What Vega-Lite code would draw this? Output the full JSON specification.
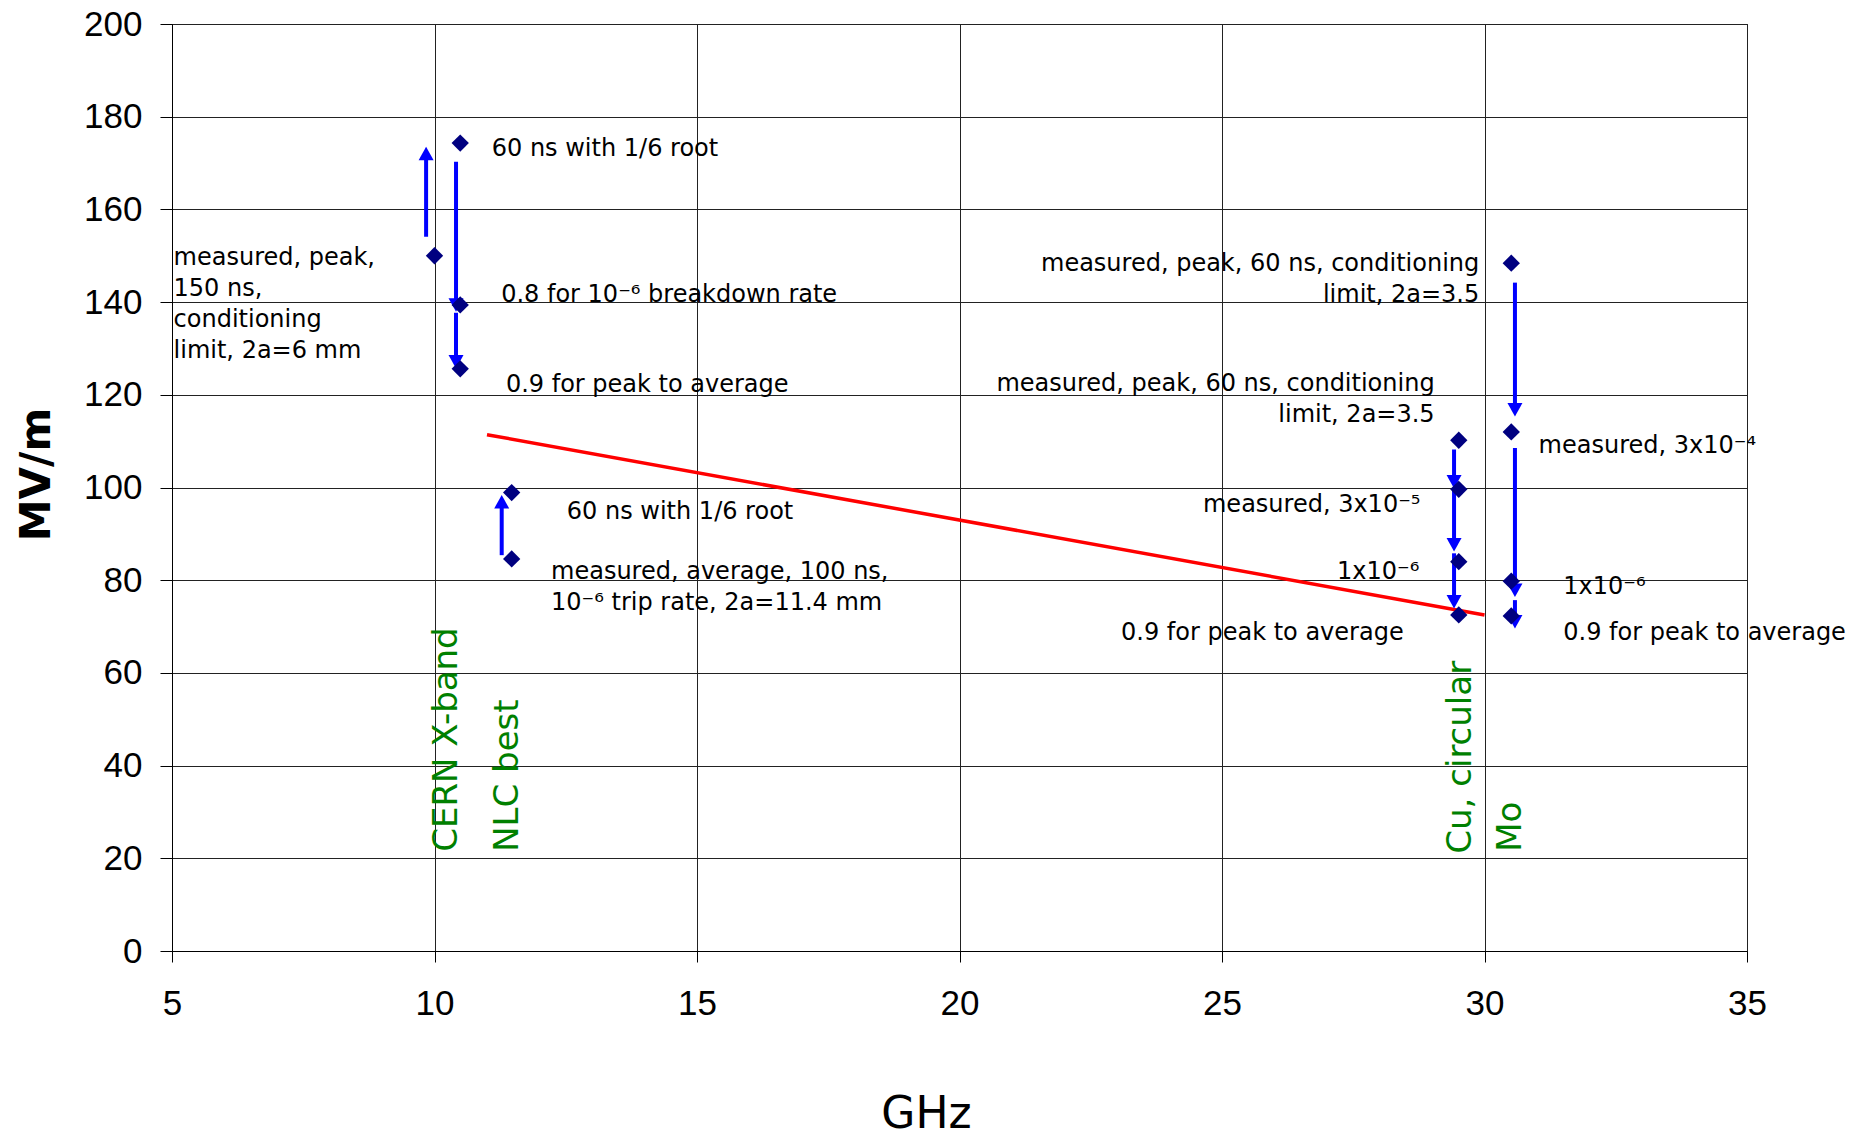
{
  "$schema": "https://vega.github.io/schema/vega-lite/v6.json",
  "width": 1575,
  "height": 927,
  "autosize": {"type": "none"},
  "padding": {"left": 172, "top": 24, "right": 115, "bottom": 189},
  "background": "white",
  "config": {
    "view": {"stroke": "#000", "strokeWidth": 1},
    "axis": {
      "grid": true,
      "gridColor": "#222",
      "gridWidth": 1,
      "gridOpacity": 1,
      "domainColor": "#000",
      "domainWidth": 1,
      "tickColor": "#000",
      "tickWidth": 1,
      "labelFont": "Liberation Sans",
      "labelFontSize": 35,
      "labelColor": "#000",
      "labelOverlap": false,
      "labelFlush": false,
      "labelBound": false,
      "titleColor": "#000",
      "titleFont": "DejaVu Sans"
    },
    "axisX": {
      "tickSize": 11,
      "labelPadding": 24,
      "titleFontSize": 44,
      "titleFontWeight": "normal",
      "titleX": 754,
      "titleY": 163,
      "titleAlign": "center",
      "titleBaseline": "middle"
    },
    "axisY": {
      "tickSize": 12,
      "labelPadding": 18,
      "titleFontSize": 42,
      "titleFontWeight": "bold",
      "titleAngle": 270,
      "titleX": -136,
      "titleY": 450,
      "titleAlign": "center",
      "titleBaseline": "middle"
    }
  },
  "datasets": {
    "points": [
      {"x": 10.0, "y": 150.0},
      {"x": 10.49, "y": 174.3},
      {"x": 10.49, "y": 139.4},
      {"x": 10.49, "y": 125.6},
      {"x": 11.47, "y": 98.9},
      {"x": 11.47, "y": 84.6},
      {"x": 29.51, "y": 110.2},
      {"x": 29.51, "y": 99.6},
      {"x": 29.51, "y": 84.0},
      {"x": 29.51, "y": 72.5},
      {"x": 30.51, "y": 148.4},
      {"x": 30.51, "y": 112.0},
      {"x": 30.51, "y": 79.8},
      {"x": 30.51, "y": 72.3}
    ],
    "arrows": [
      {"x": 9.84, "y": 154.1, "y2": 173.5, "dir": "up"},
      {"x": 11.28, "y": 85.4, "y2": 98.4, "dir": "up"},
      {"x": 10.41, "y": 170.3, "y2": 137.9, "dir": "down"},
      {"x": 10.41, "y": 137.7, "y2": 125.7, "dir": "down"},
      {"x": 29.42, "y": 108.2, "y2": 99.8, "dir": "down"},
      {"x": 29.42, "y": 99.5, "y2": 86.2, "dir": "down"},
      {"x": 29.42, "y": 85.8, "y2": 73.9, "dir": "down"},
      {"x": 30.58, "y": 144.2, "y2": 115.3, "dir": "down"},
      {"x": 30.58, "y": 108.5, "y2": 76.4, "dir": "down"},
      {"x": 30.58, "y": 75.7, "y2": 69.6, "dir": "down"}
    ],
    "trend": [
      {"x": 11.0, "y": 111.4},
      {"x": 30.0, "y": 72.5}
    ],
    "notes": [
      {"x": 11.09, "y": 175.7, "label": "60 ns with 1/6 root", "side": "left"},
      {"x": 5.03, "y": 152.1, "label": "measured, peak,\n150 ns,\nconditioning\nlimit, 2a=6 mm", "side": "left"},
      {"x": 11.27, "y": 144.2, "label": "0.8 for 10⁻⁶ breakdown rate", "side": "left"},
      {"x": 11.36, "y": 124.8, "label": "0.9 for peak to average", "side": "left"},
      {"x": 12.52, "y": 97.3, "label": "60 ns with 1/6 root", "side": "left"},
      {"x": 12.22, "y": 84.4, "label": "measured, average, 100 ns,\n10⁻⁶ trip rate, 2a=11.4 mm", "side": "left"},
      {"x": 31.03, "y": 111.6, "label": "measured, 3x10⁻⁴", "side": "left"},
      {"x": 31.5, "y": 81.2, "label": "1x10⁻⁶", "side": "left"},
      {"x": 31.5, "y": 71.1, "label": "0.9 for peak to average", "side": "left"},
      {"x": 29.9, "y": 150.9, "label": "measured, peak, 60 ns, conditioning\nlimit, 2a=3.5", "side": "right"},
      {"x": 29.05, "y": 125.0, "label": "measured, peak, 60 ns, conditioning\nlimit, 2a=3.5", "side": "right"},
      {"x": 28.78, "y": 98.8, "label": "measured, 3x10⁻⁵", "side": "right"},
      {"x": 28.76, "y": 84.4, "label": "1x10⁻⁶", "side": "right"},
      {"x": 28.46, "y": 71.1, "label": "0.9 for peak to average", "side": "right"}
    ],
    "sites": [
      {"x": 10.23, "y": 21.4, "label": "CERN X-band"},
      {"x": 11.4, "y": 21.4, "label": "NLC best"},
      {"x": 29.55, "y": 21.0, "label": "Cu, circular"},
      {"x": 30.5, "y": 21.4, "label": "Mo"}
    ]
  },
  "encoding": {
    "x": {
      "field": "x",
      "type": "quantitative",
      "title": "GHz",
      "scale": {"domain": [5, 35], "nice": false, "zero": false},
      "axis": {"values": [5, 10, 15, 20, 25, 30, 35]}
    },
    "y": {
      "field": "y",
      "type": "quantitative",
      "title": "MV/m",
      "scale": {"domain": [0, 200], "nice": false},
      "axis": {"values": [0, 20, 40, 60, 80, 100, 120, 140, 160, 180, 200]}
    }
  },
  "layer": [
    {
      "data": {"name": "trend"},
      "mark": {"type": "line", "color": "#FF0000", "strokeWidth": 3.5}
    },
    {
      "data": {"name": "arrows"},
      "transform": [{"filter": "datum.dir == 'up'"}],
      "mark": {"type": "rule", "color": "#0000FF", "strokeWidth": 4, "strokeCap": "butt", "y2Offset": 8},
      "encoding": {"y2": {"field": "y2"}}
    },
    {
      "data": {"name": "arrows"},
      "transform": [{"filter": "datum.dir == 'down'"}],
      "mark": {"type": "rule", "color": "#0000FF", "strokeWidth": 4, "strokeCap": "butt", "y2Offset": -8},
      "encoding": {"y2": {"field": "y2"}}
    },
    {
      "data": {"name": "arrows"},
      "mark": {"type": "point", "filled": true, "opacity": 1, "color": "#0000FF", "size": 225, "strokeWidth": 0},
      "encoding": {
        "y": {
          "field": "y2",
          "type": "quantitative",
          "title": "MV/m",
          "axis": {"values": [0, 20, 40, 60, 80, 100, 120, 140, 160, 180, 200]}
        },
        "shape": {
          "field": "dir",
          "type": "nominal",
          "scale": {"domain": ["up", "down"], "range": ["M0,0L1,1.8L-1,1.8Z", "M0,0L1,-1.8L-1,-1.8Z"]},
          "legend": null
        }
      }
    },
    {
      "data": {"name": "points"},
      "mark": {"type": "point", "shape": "diamond", "filled": true, "opacity": 1, "color": "#000080", "size": 300, "strokeWidth": 0}
    },
    {
      "data": {"name": "notes"},
      "transform": [{"filter": "datum.side == 'left'"}],
      "mark": {"type": "text", "align": "left", "baseline": "top", "font": "DejaVu Sans", "fontSize": 24, "color": "#000", "lineBreak": "\n", "lineHeight": 31},
      "encoding": {"text": {"field": "label"}}
    },
    {
      "data": {"name": "notes"},
      "transform": [{"filter": "datum.side == 'right'"}],
      "mark": {"type": "text", "align": "right", "baseline": "top", "font": "DejaVu Sans", "fontSize": 24, "color": "#000", "lineBreak": "\n", "lineHeight": 31},
      "encoding": {"text": {"field": "label"}}
    },
    {
      "data": {"name": "sites"},
      "mark": {"type": "text", "align": "left", "baseline": "middle", "angle": 270, "font": "DejaVu Sans", "fontSize": 34, "color": "#008000"},
      "encoding": {"text": {"field": "label"}}
    }
  ]
}
